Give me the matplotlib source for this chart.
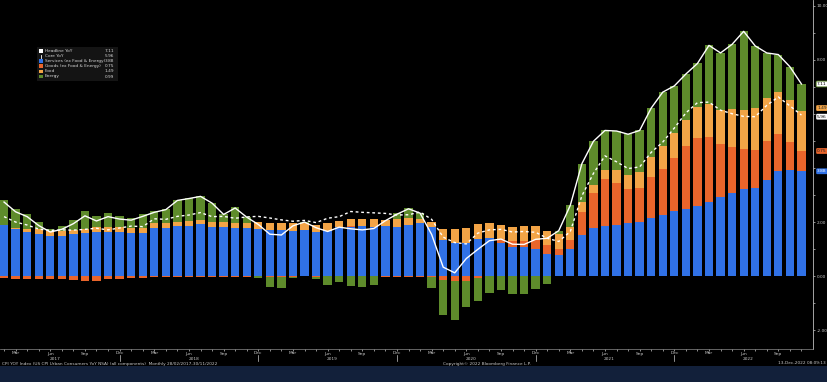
import matplotlib
matplotlib.use("Agg")
import matplotlib.pyplot as plt
import numpy as np
import pandas as pd
from matplotlib.transforms import blended_transform_factory
from matplotlib.patches import Rectangle
from matplotlib.lines import Line2D

# ---------------- data ----------------
months = pd.date_range("2017-02-01", "2022-11-01", freq="MS")

headline = [2.74, 2.38, 2.20, 1.87, 1.63, 1.73, 1.94, 2.23, 2.04, 2.20, 2.11,
            2.07, 2.21, 2.36, 2.46, 2.80, 2.87, 2.95, 2.70, 2.28, 2.52, 2.18, 1.91,
            1.55, 1.52, 1.86, 2.00, 1.79, 1.65, 1.81, 1.75, 1.71, 1.76, 2.05, 2.29,
            2.49, 2.33, 1.54, 0.33, 0.12, 0.65, 0.99, 1.31, 1.37, 1.18, 1.17, 1.36,
            1.40, 1.68, 2.62, 4.16, 4.99, 5.39, 5.37, 5.25, 5.39, 6.22, 6.81, 7.04,
            7.48, 7.87, 8.54, 8.26, 8.58, 9.06, 8.52, 8.26, 8.20, 7.75, 7.11]

core = [2.20, 2.00, 1.89, 1.74, 1.69, 1.71, 1.70, 1.73, 1.77, 1.71, 1.78,
        1.85, 1.83, 2.12, 2.10, 2.21, 2.26, 2.35, 2.20, 2.21, 2.14, 2.19, 2.21,
        2.15, 2.08, 2.03, 2.06, 1.98, 2.14, 2.20, 2.39, 2.36, 2.34, 2.32, 2.26,
        2.27, 2.37, 2.10, 1.44, 1.24, 1.19, 1.59, 1.71, 1.73, 1.63, 1.65, 1.62,
        1.40, 1.28, 1.65, 2.97, 3.80, 4.45, 4.23, 3.98, 4.04, 4.58, 4.96, 5.48,
        6.04, 6.42, 6.44, 6.14, 6.01, 5.91, 5.90, 6.32, 6.63, 6.30, 5.96]

services = [1.89, 1.74, 1.64, 1.56, 1.49, 1.48, 1.54, 1.58, 1.62, 1.64, 1.64,
            1.60, 1.60, 1.77, 1.79, 1.85, 1.86, 1.91, 1.83, 1.83, 1.77, 1.77, 1.74,
            1.70, 1.70, 1.67, 1.70, 1.64, 1.68, 1.83, 1.80, 1.85, 1.83, 1.86, 1.83,
            1.89, 1.95, 1.80, 1.33, 1.21, 1.23, 1.36, 1.40, 1.21, 1.09, 1.09, 0.99,
            0.81, 0.78, 0.99, 1.52, 1.78, 1.85, 1.90, 1.95, 2.00, 2.15, 2.25, 2.40,
            2.50, 2.60, 2.75, 2.94, 3.06, 3.22, 3.25, 3.56, 3.90, 3.93, 3.88]

goods = [-0.07, -0.10, -0.10, -0.12, -0.12, -0.12, -0.15, -0.17, -0.17, -0.12, -0.10,
         -0.08, -0.08, -0.05, -0.04, -0.03, -0.02, -0.02, -0.02, -0.03, -0.03, -0.02, -0.01,
         -0.02, -0.02, -0.03, -0.01, -0.03, 0.00, 0.00, 0.05, 0.00, 0.00, -0.02, -0.05,
         -0.03, -0.02, -0.02, -0.15, -0.17, -0.17, -0.09, 0.00, 0.18, 0.19, 0.20, 0.34,
         0.34, 0.24, 0.34, 0.86, 1.30, 1.73, 1.53, 1.27, 1.25, 1.53, 1.71, 1.98,
         2.31, 2.52, 2.41, 1.95, 1.73, 1.47, 1.42, 1.44, 1.36, 1.04, 0.75]

food = [0.00, 0.05, 0.10, 0.18, 0.18, 0.20, 0.18, 0.15, 0.18, 0.18, 0.18,
        0.18, 0.18, 0.18, 0.18, 0.16, 0.18, 0.18, 0.18, 0.18, 0.18, 0.20, 0.25,
        0.25, 0.25, 0.28, 0.28, 0.25, 0.30, 0.20, 0.25, 0.25, 0.27, 0.20, 0.27,
        0.25, 0.18, 0.19, 0.43, 0.52, 0.56, 0.56, 0.55, 0.50, 0.55, 0.55, 0.52,
        0.53, 0.52, 0.50, 0.37, 0.30, 0.35, 0.50, 0.52, 0.61, 0.74, 0.85, 0.90,
        0.97, 1.13, 1.21, 1.26, 1.38, 1.46, 1.54, 1.58, 1.57, 1.55, 1.49]

energy = [0.92, 0.69, 0.56, 0.25, 0.08, 0.17, 0.37, 0.67, 0.41, 0.50, 0.39,
          0.37, 0.51, 0.46, 0.53, 0.82, 0.85, 0.88, 0.71, 0.30, 0.60, 0.23, -0.07,
          -0.38, -0.41, -0.06, 0.03, -0.07, -0.33, -0.22, -0.35, -0.39, -0.34, 0.01, 0.24,
          0.38, 0.22, -0.43, -1.28, -1.44, -0.97, -0.84, -0.64, -0.52, -0.65, -0.67, -0.49,
          -0.28, 0.14, 0.79, 1.41, 1.61, 1.46, 1.44, 1.51, 1.53, 1.80, 2.00, 1.76,
          1.70, 1.62, 2.17, 2.11, 2.41, 2.91, 2.31, 1.68, 1.37, 1.23, 0.99]

legend_labels = ["Headline YoY", "Core YoY", "Services (ex Food & Energy)",
                 "Goods (ex Food & Energy)", "Food", "Energy"]

y_ticks = [-2, 0, 2, 4, 6, 8, 10]
y_hidden_labels = [4, 6]   # covered by the value boxes in the reference

footer_left = "CPI YOY Index (US CPI Urban Consumers YoY NSA) (all components)  Monthly 28/02/2017-30/11/2022"
footer_mid = "Copyright\u00a9 2022 Bloomberg Finance L.P."
footer_right = "13-Dec-2022 08:09:13"

# ---------------- style ----------------
C_SERV = "#3071e6"
C_GOODS = "#e9652b"
C_FOOD = "#f2a446"
C_ENERGY = "#5e8b2b"
C_TXT = "#c8c8c8"

W, H = 828, 382
fig = plt.figure(figsize=(W / 100, H / 100), dpi=100, facecolor="black")
fig.patches.append(Rectangle((0, 0), 1, 16 / H, transform=fig.transFigure,
                             facecolor="#12203a", edgecolor="none", zorder=0))

ax = fig.add_axes([0, 33 / H, 813 / W, 349 / H])
ax.set_facecolor("black")

x = np.arange(len(months))
pos_bottom = np.zeros(len(x))
neg_bottom = np.zeros(len(x))
for vals, col in [(services, C_SERV), (goods, C_GOODS), (food, C_FOOD), (energy, C_ENERGY)]:
    v = np.asarray(vals, dtype=float)
    b = np.where(v >= 0, pos_bottom, neg_bottom)
    ax.bar(x, v, width=0.72, bottom=b, color=col, linewidth=0, zorder=2)
    pos_bottom += np.where(v > 0, v, 0)
    neg_bottom += np.where(v < 0, v, 0)

ax.plot(x, headline, color="white", lw=1.0, zorder=4)
ax.plot(x, core, color="white", lw=1.0, dashes=(2, 2), zorder=4)

ax.set_xlim(-0.35, 70.0)
ax.set_ylim(-2.70, 10.22)

# y axis on right
ax.yaxis.tick_right()
ax.set_yticks(y_ticks)
ax.set_yticklabels(["" if v in y_hidden_labels else f"{v:.2f}" for v in y_ticks])
ax.set_yticks([-1, 1, 3, 5, 7, 9], minor=True)
ax.tick_params(axis="y", which="both", colors=C_TXT, labelsize=3.1, length=1.5,
               width=0.5, pad=1.0, direction="out")

# x axis
maj = [i for i, m in enumerate(months) if m.month in (3, 6, 9, 12)]
ax.set_xticks(maj)
ax.set_xticklabels([months[i].strftime("%b") for i in maj])
ax.set_xticks(x, minor=True)
ax.tick_params(axis="x", which="both", colors=C_TXT, labelsize=3.2, length=1.2,
               width=0.5, pad=0.6, direction="out")

for s in ["top", "left"]:
    ax.spines[s].set_visible(False)
ax.spines["right"].set_color("#bdbdbd")
ax.spines["right"].set_linewidth(0.6)
ax.spines["bottom"].set_color("#8a8a8a")
ax.spines["bottom"].set_linewidth(0.5)

tr = blended_transform_factory(ax.transData, ax.transAxes)
for i, m in enumerate(months):
    if m.month == 6:
        ax.text(i + 0.4, -0.030, str(m.year), transform=tr, ha="center", va="center",
                fontsize=3.1, color=C_TXT)
    if m.month == 12:
        ax.add_line(Line2D([i, i], [-0.016, -0.034], transform=tr, color=C_TXT,
                           lw=0.5, clip_on=False))

# value boxes at right axis
trv = blended_transform_factory(ax.transAxes, ax.transData)
last = len(x) - 1
stack_serv = services[last]
stack_goods = stack_serv + goods[last]
stack_food = stack_goods + food[last]
boxes = [
    (stack_serv, f"{services[last]:.2f}", C_SERV, "white", "none"),
    (stack_goods, f"{goods[last]:.2f}", C_GOODS, "#202020", "none"),
    (core[last] - 0.06, f"{core[last]:.2f}", "white", "black", "none"),
    (stack_food + 0.10, f"{food[last]:.2f}", C_FOOD, "#202020", "none"),
    (headline[last], f"{headline[last]:.2f}", "white", "black", C_ENERGY),
]
for yv, txt, fc, tc, ec in boxes:
    ax.text(1.005, yv, txt, transform=trv, ha="left", va="center", fontsize=3.2,
            color=tc, clip_on=False, zorder=6,
            bbox=dict(boxstyle="round,pad=0.2,rounding_size=0.25", fc=fc, ec=ec, lw=0.6))

# legend (manual)
def fx(px):
    return px / W

def fy(py):
    return 1 - py / H

fig.patches.append(Rectangle((fx(37), fy(81)), fx(81), 34 / H, transform=fig.transFigure,
                             facecolor="#141414", edgecolor="none", zorder=5))
leg_vals = [headline[last], core[last], services[last], goods[last], food[last], energy[last]]
leg_cols = ["white", None, C_SERV, C_GOODS, C_FOOD, C_ENERGY]
for k, (lab, val, col) in enumerate(zip(legend_labels, leg_vals, leg_cols)):
    yy = 51 + 5.1 * k
    if col is not None:
        fig.patches.append(Rectangle((fx(39.5), fy(yy + 1.6)), fx(3.4), 3.4 / H,
                                     transform=fig.transFigure, facecolor=col,
                                     edgecolor="none", zorder=6))
    else:
        fig.add_artist(Line2D([fx(41.5), fx(41.5)], [fy(yy + 1.6), fy(yy - 1.6)],
                              transform=fig.transFigure, color="white", lw=0.6, zorder=6))
    fig.text(fx(45), fy(yy), lab, ha="left", va="center", fontsize=3.1, color="#d8d8d8",
             zorder=7)
    fig.text(fx(114), fy(yy), f"{val:.2f}", ha="right", va="center", fontsize=3.1,
             color="#d8d8d8", zorder=7)

# footer
fig.text(fx(2), fy(363.5), footer_left, ha="left", va="center", fontsize=3.1, color=C_TXT)
fig.text(fx(487), fy(363.5), footer_mid, ha="center", va="center", fontsize=3.1, color=C_TXT)
fig.text(fx(826), fy(363.5), footer_right, ha="right", va="center", fontsize=3.1, color=C_TXT)

fig.savefig("out.png", dpi=100, facecolor="black")
